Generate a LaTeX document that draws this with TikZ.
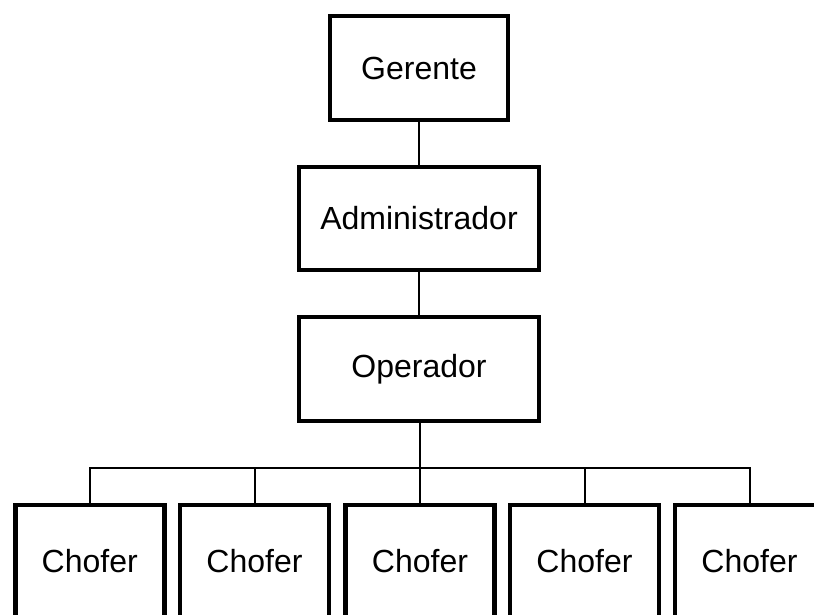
\documentclass[tikz,border=0pt]{standalone}
\usepackage{fontspec}
\setmainfont{Liberation Sans}
\begin{document}
\begin{tikzpicture}[x=1pt,y=1pt,
  box/.style={draw=black,line width=4.5pt,rectangle,inner sep=0pt,
    font=\fontsize{32}{38}\selectfont},
  chofer/.style={box,minimum width=149pt,minimum height=112pt},
  link/.style={draw=black,line width=2pt}]
\useasboundingbox (0,0) rectangle (814,-614);
\clip (0,0) rectangle (814,-614);
\node[box,minimum width=178pt,minimum height=104pt] (ger) at (419,-68) {Gerente};
\node[box,minimum width=240pt,minimum height=103pt] (adm) at (419,-218.5) {Administrador};
\node[box,minimum width=240pt,minimum height=104pt] (ope) at (419,-369) {Operador};
\node[chofer] (c1) at (89.75,-561) {Chofer};
\node[chofer] (c2) at (254.5,-561) {Chofer};
\node[chofer] (c3) at (420,-561) {Chofer};
\node[chofer] (c4) at (584.5,-561) {Chofer};
\node[chofer] (c5) at (749.5,-561) {Chofer};
\coordinate (bus) at (420,-468);
\draw[link] (ger.south) -- (adm.north);
\draw[link] (adm.south) -- (ope.north);
\draw[link] (ope.south -| c3.north) -- (c3.north);
\draw[link] (c1.north) |- (bus) -| (c5.north);
\draw[link] (c2.north) -- (c2.north |- bus);
\draw[link] (c4.north) -- (c4.north |- bus);
\end{tikzpicture}
\end{document}
